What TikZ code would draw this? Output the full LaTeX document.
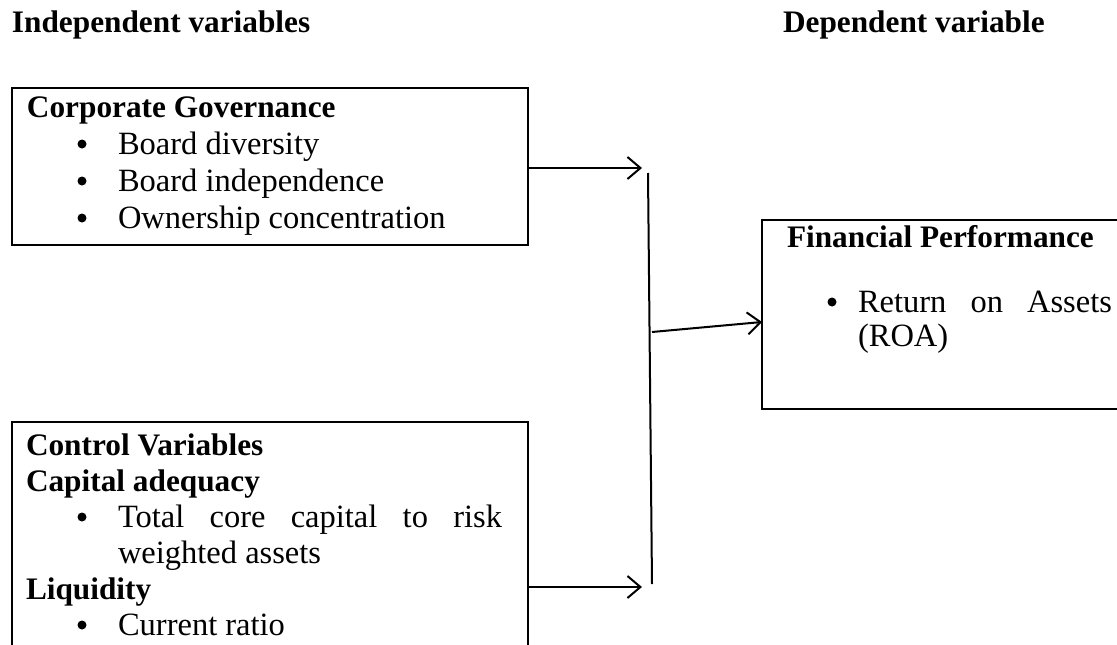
\documentclass[tikz,border=0pt]{standalone}
\usepackage{fontspec}
\setmainfont{Liberation Serif}
\usetikzlibrary{arrows.meta}
\begin{document}
\begin{tikzpicture}[x=1pt,y=-1pt,
  every node/.style={inner sep=0pt,outer sep=0pt},
  txt/.style={anchor=base west,font=\fontsize{32.5}{36}\selectfont},
  btxt/.style={anchor=base west,font=\fontsize{31.3}{36}\selectfont\bfseries},
  frame/.style={draw,line width=2pt,anchor=north west},
  conn/.style={line width=2pt},
  arr/.style={line width=2pt,-{Straight Barb[length=13pt,width=22pt,line width=2pt]}},
  dot/.style={circle,fill,minimum size=9pt}
]
\useasboundingbox (0,0) rectangle (1117,645);
\clip (0,0) rectangle (1117,645);
% headers
\node[btxt] (hind) at (12,32) {Independent variables};
\node[btxt] (hdep) at (783,32) {Dependent variable};
% boxes
\node[frame,minimum width=516pt,minimum height=157pt] (cg) at (12,88) {};
\node[frame,minimum width=516pt,minimum height=240pt] (cv) at (12,422) {};
\node[frame,minimum width=370pt,minimum height=189pt] (fp) at (762,220) {};
% top box text
\node[btxt] (t1) at (27,117) {Corporate Governance};
\node[dot] (b1) at (82,144) {};
\node[txt] (t2) at (118,154) {Board diversity};
\node[dot] (b2) at (82,181) {};
\node[txt] (t3) at (118,191) {Board independence};
\node[dot] (b3) at (82,218) {};
\node[txt] (t4) at (118,228) {Ownership concentration};
% bottom box text
\node[btxt] (c1) at (26,455) {Control Variables};
\node[btxt] (c2) at (26,491) {Capital adequacy};
\node[dot] (cb1) at (82,517) {};
\node[txt] (c3) at (118,527) {\hbox to 384pt{Total\hfill core\hfill capital\hfill to\hfill risk}};
\node[txt] (c4) at (118,563) {weighted assets};
\node[btxt] (c5) at (26,599) {Liquidity};
\node[dot] (cb2) at (82,625) {};
\node[txt] (c6) at (118,635) {Current ratio};
% right box text
\node[btxt] (f1) at (787,247) {Financial Performance};
\node[dot] (fb) at (832,302) {};
\node[txt] (f2) at (858,312) {\hbox to 254pt{Return\hfill on\hfill Assets}};
\node[txt] (f3) at (858,346) {(ROA)};
% connectors
\coordinate (vt) at (648,173);
\coordinate (vb) at (652,584);
\coordinate (a1) at (642,168);
\coordinate (a2) at (642,587);
\coordinate (ms) at (652,332);
\draw[conn] (vt) -- (vb);
\draw[arr] (cg.east |- a1) -- (a1);
\draw[arr] (cv.east |- a2) -- (a2);
\draw[arr] (ms) -- (fp.west |- 0,322);
\end{tikzpicture}
\end{document}
